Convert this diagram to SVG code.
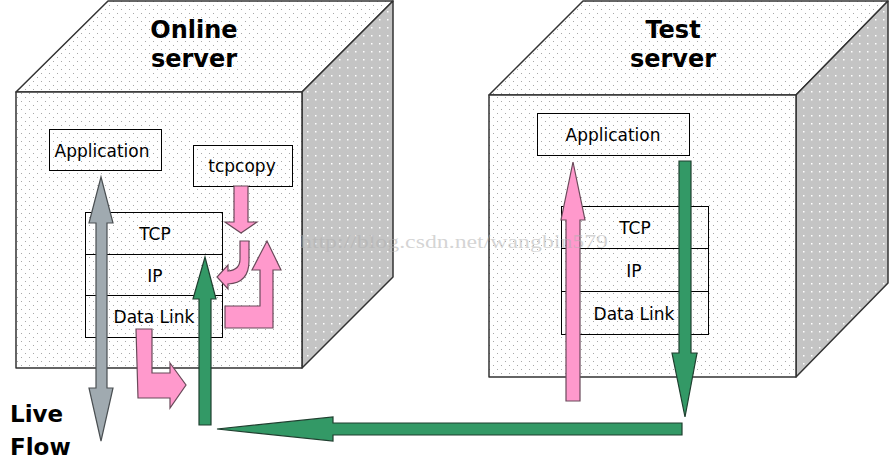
<svg xmlns="http://www.w3.org/2000/svg" width="890" height="466" viewBox="0 0 890 466">
<defs>
<pattern id="dotsLight" width="8" height="8" patternUnits="userSpaceOnUse">
<rect width="8" height="8" fill="#ffffff"/>
<rect x="1" y="1" width="1" height="1" fill="#a8a8a8"/>
<rect x="5" y="5" width="1" height="1" fill="#a8a8a8"/>
</pattern>
<pattern id="dotsDark" width="8" height="8" patternUnits="userSpaceOnUse">
<rect width="8" height="8" fill="#c4c4c4"/>
<rect x="3" y="3" width="1.5" height="1.5" fill="#ffffff"/>
</pattern>
<style>
.face{fill:url(#dotsLight);stroke:#333;stroke-width:1.5;stroke-linejoin:round}
.side{fill:url(#dotsDark);stroke:#333;stroke-width:1.5;stroke-linejoin:round}
.box{fill:none;stroke:#000;stroke-width:1}
.lbl{font-family:"DejaVu Sans",Verdana,sans-serif;font-size:17px;fill:#000;text-anchor:middle}
.title{font-family:"DejaVu Sans","Liberation Sans",sans-serif;font-weight:bold;font-size:24px;fill:#000;text-anchor:middle}
.live{font-family:"DejaVu Sans","Liberation Sans",sans-serif;font-weight:bold;font-size:23px;fill:#000}
.green{fill:#339966;stroke:#1f3f2f;stroke-width:1.2;stroke-linejoin:miter}
.pink{fill:#ff99cc;stroke:#6a4a5a;stroke-width:1.2;stroke-linejoin:miter}
.gray{fill:#a0aab0;stroke:#4a4f52;stroke-width:1.2;stroke-linejoin:miter}
.wm{font-family:"Liberation Serif","DejaVu Serif",serif;font-size:19px;fill:#b0b0b0;fill-opacity:0.55}
</style>
</defs>

<g id="online-server">
<polygon class="face" points="16,92 108,1 393,1 302,92"/>
<polygon class="side" points="302,92 393,1 393,277 302,368"/>
<rect class="face" x="16" y="92" width="286" height="276"/>
<text class="title" x="194" y="38">Online</text>
<text class="title" x="194" y="67">server</text>
</g>

<g id="test-server">
<polygon class="face" points="489,95 583,1 888,1 796,95"/>
<polygon class="side" points="796,95 888,1 888,283 796,377"/>
<rect class="face" x="489" y="95" width="307" height="282"/>
<text class="title" x="673" y="38">Test</text>
<text class="title" x="673" y="67">server</text>
</g>

<g id="online-application">
<rect class="box" x="49.5" y="129.5" width="112" height="41"/>
<text class="lbl" x="102" y="157">Application</text>
</g>

<g id="tcpcopy">
<rect class="box" x="193.5" y="145.5" width="99" height="41"/>
<text class="lbl" x="242" y="172">tcpcopy</text>
</g>

<g id="online-stack">
<rect class="box" x="85.5" y="212.5" width="137" height="42"/>
<rect class="box" x="85.5" y="254.5" width="137" height="41"/>
<rect class="box" x="85.5" y="295.5" width="137" height="42"/>
<text class="lbl" x="155" y="240">TCP</text>
<text class="lbl" x="155" y="282">IP</text>
<text class="lbl" x="154" y="323">Data Link</text>
</g>

<g id="test-application">
<rect class="box" x="537.5" y="113.5" width="152" height="42"/>
<text class="lbl" x="613" y="141">Application</text>
</g>

<g id="test-stack">
<rect class="box" x="561.5" y="206.5" width="147" height="42"/>
<rect class="box" x="561.5" y="248.5" width="147" height="43"/>
<rect class="box" x="561.5" y="291.5" width="147" height="43"/>
<text class="lbl" x="635" y="234">TCP</text>
<text class="lbl" x="634" y="277">IP</text>
<text class="lbl" x="634" y="320">Data Link</text>
</g>

<g id="live-flow">
<text class="live" x="10" y="422">Live</text>
<text class="live" x="10" y="455">Flow</text>
</g>

<g id="connectors">
<path class="gray" d="M101,177 L113,223 L107,223 L107,388 L113,388 L101,441 L89,388 L96,388 L96,223 L89,223 Z"/>
<path class="pink" d="M234,186 L248,186 L248,222 L257,222 L241,233 L225,222 L234,222 Z"/>
<path class="pink" d="M240,241 L249,241 L249,261 Q249,283 228,284 L228,289 L217,277 L228,265 L228,271 Q240,270 240,259 Z"/>
<path class="pink" d="M225,306 L260,306 L260,270 L252,270 L267,241 L281,270 L273,270 L273,328 L225,328 Z"/>
<path class="pink" d="M136,329 L152,329 L152,373 L170,373 L170,363 L186,385 L170,408 L170,398 L138,398 Z"/>
<path class="green" d="M205,257 L216,299 L211,299 L211,425 L199,425 L199,299 L193,299 Z"/>
<path class="green" d="M682,423 L682,435 L333,435 L333,441 L217,429 L333,417 L333,423 Z"/>
<path class="green" d="M679,161 L691,161 L691,353 L697,353 L685,417 L672,353 L679,353 Z"/>
<path class="pink" d="M573,162 L585,220 L580,220 L580,401 L566,401 L566,220 L561,220 Z"/>
</g>

<text class="wm" x="300" y="248" textLength="308" lengthAdjust="spacingAndGlyphs">http://blog.csdn.net/wangbin579</text>
</svg>
